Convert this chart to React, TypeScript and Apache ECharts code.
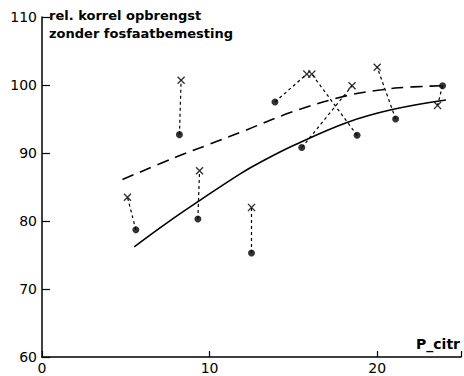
import React, { useEffect, useRef } from "react";
import * as echarts from "echarts";

// Paired observations: dot (●) and cross (×), joined by a dotted line
const dotX = [5.6, 8.2, 9.3, 12.5, 13.9, 18.8, 15.5, 21.1, 23.9];
const dotY = [78.7, 92.7, 80.3, 75.3, 97.5, 92.6, 90.8, 95.0, 99.9];
const crossX = [5.1, 8.3, 9.4, 12.5, 15.8, 16.1, 18.5, 20.0, 23.6];
const crossY = [83.5, 100.7, 87.4, 82.0, 101.6, 101.6, 99.9, 102.6, 97.0];

// Fitted curves
const solidX = [5.5, 7.5, 9.4, 11.8, 13.0, 15.0, 18.2, 20.9, 24.1];
const solidY = [76.2, 79.8, 83.0, 86.9, 88.6, 91.1, 94.5, 96.4, 97.8];
const dashX = [4.8, 8.0, 10.0, 12.2, 15.0, 18.3, 20.3, 21.3, 23.9];
const dashY = [86.1, 89.4, 91.3, 93.4, 96.1, 98.5, 99.3, 99.6, 99.9];

const yTicks = [60, 70, 80, 90, 100, 110];
const xTicks = [0, 10, 20];

const yTitle = ["rel. korrel opbrengst", "zonder fosfaatbemesting"];
const xTitle = "P_citr";

const FONT = "DejaVu Sans";
const CROSS =
  "path://M0,1.2L1.2,0L5,3.8L8.8,0L10,1.2L6.2,5L10,8.8L8.8,10L5,6.2L1.2,10L0,8.8L3.8,5Z";

export default function App() {
  const ref = useRef<HTMLDivElement>(null);
  useEffect(() => {
    if (!ref.current) return;
    const chart = echarts.init(ref.current, null, { renderer: "svg" });
    const pairSeries = dotX.map((_, i) => ({
      type: "line",
      data: [
        [dotX[i], dotY[i]],
        [crossX[i], crossY[i]],
      ],
      symbol: "none",
      lineStyle: { color: "#000", width: 1.2, type: [3, 3] },
      silent: true,
      z: 1,
    }));
    chart.setOption({
      animation: false,
      backgroundColor: "#fff",
      grid: { left: 42, right: 2, top: 17, bottom: 19 },
      xAxis: {
        type: "value",
        min: 0,
        max: 25,
        interval: 10,
        axisLine: { show: true, lineStyle: { color: "#000", width: 1.5 } },
        axisTick: { show: true, inside: true, length: 6, lineStyle: { color: "#000", width: 1.2 } },
        axisLabel: {
          color: "#000",
          fontFamily: FONT,
          fontSize: 14,
          margin: 4,
          formatter: (v: number) => (xTicks.includes(v) ? String(v) : ""),
        },
        splitLine: { show: false },
      },
      yAxis: {
        type: "value",
        min: 60,
        max: 110,
        interval: 10,
        axisLine: { show: true, lineStyle: { color: "#000", width: 1.5 } },
        axisTick: { show: true, inside: true, length: 8, lineStyle: { color: "#000", width: 1.2 } },
        axisLabel: {
          color: "#000",
          fontFamily: FONT,
          fontSize: 14,
          margin: 5,
          formatter: (v: number) => (yTicks.includes(v) ? String(v) : ""),
        },
        splitLine: { show: false },
      },
      graphic: [
        {
          type: "text",
          left: 49,
          top: 6,
          style: {
            text: yTitle.join("\n"),
            fill: "#000",
            font: `bold 13px "${FONT}"`,
            lineHeight: 18,
          },
        },
        {
          type: "text",
          right: 4,
          top: 337,
          style: { text: xTitle, fill: "#000", font: `bold 14px "${FONT}"` },
        },
      ],
      series: [
        ...pairSeries,
        {
          type: "line",
          data: solidX.map((x, i) => [x, solidY[i]]),
          smooth: 0.4,
          symbol: "none",
          lineStyle: { color: "#000", width: 1.6 },
          z: 2,
        },
        {
          type: "line",
          data: dashX.map((x, i) => [x, dashY[i]]),
          smooth: 0.4,
          symbol: "none",
          lineStyle: { color: "#000", width: 1.6, type: [12, 7] },
          z: 2,
        },
        {
          type: "scatter",
          data: dotX.map((x, i) => [x, dotY[i]]),
          symbol: "circle",
          symbolSize: 7,
          itemStyle: { color: "#000" },
          z: 3,
        },
        {
          type: "scatter",
          data: crossX.map((x, i) => [x, crossY[i]]),
          symbol: CROSS,
          symbolSize: 8,
          itemStyle: { color: "#000" },
          z: 3,
        },
      ],
    });
    return () => chart.dispose();
  }, []);
  return <div ref={ref} style={{ width: 464, height: 376, position: "absolute", left: 0, top: 0 }} />;
}
